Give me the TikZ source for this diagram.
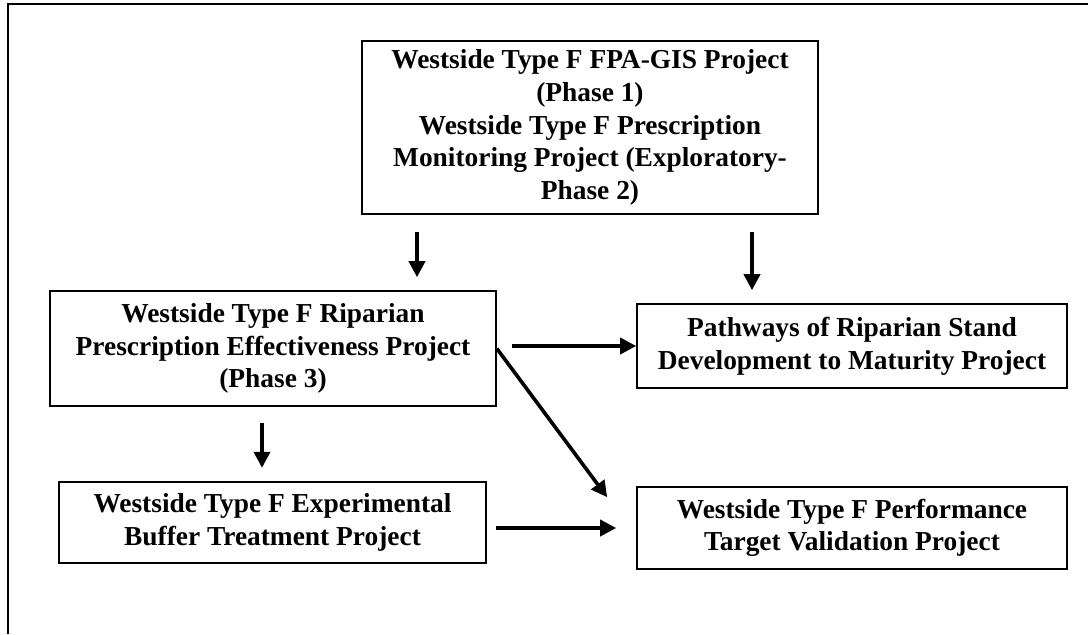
\documentclass[tikz,border=0pt]{standalone}
\usepackage{fontspec}
\setmainfont{Liberation Serif}
\usetikzlibrary{calc,arrows.meta,positioning}

\begin{document}
\begin{tikzpicture}[
  x=0.5pt, y=-0.5pt,
  box/.style={rectangle, draw, line width=0.8pt, inner sep=0pt, align=center,
    font=\fontsize{13.7}{16.3}\selectfont\bfseries},
  arr/.style={line width=1.8pt, -{Triangle[length=8pt,width=8pt]}},
  frame/.style={line width=1.2pt},
]
  \useasboundingbox (0,0) rectangle (1088,634);
  \draw[frame] (8,634) -- (8,4) -- (1088,4);

  \node[box, minimum width=228pt, minimum height=86.5pt] (gis) at (590,127.5) {
    Westside Type F FPA-GIS Project\\
    (Phase 1)\\
    Westside Type F Prescription\\
    Monitoring Project (Exploratory-\\
    Phase 2)
  };

  \node[box, minimum width=223pt, minimum height=57.5pt] (ripar) at (273,348.5) {
    Westside Type F Riparian\\
    Prescription Effectiveness Project\\
    (Phase 3)
  };

  \node[box, minimum width=215pt, minimum height=42pt] (path) at (852,346) {
    Pathways of Riparian Stand\\
    Development to Maturity Project
  };

  \node[box, minimum width=213.5pt, minimum height=40.5pt] (buffer) at (272.5,522.5) {
    Westside Type F Experimental\\
    Buffer Treatment Project
  };

  \node[box, minimum width=215pt, minimum height=41pt] (perf) at (852,528) {
    Westside Type F Performance\\
    Target Validation Project
  };

  % arrows between projects
  \draw[arr] ($(gis.south -| 417,0)+(0,17)$) -- ($(ripar.north -| 417,0)+(0,-13)$);
  \draw[arr] ($(gis.south -| 752,0)+(0,17)$) -- ($(path.north -| 752,0)+(0,-13)$);
  \draw[arr] ($(ripar.south -| 262,0)+(0,16)$) -- ($(buffer.south -| 262,0)+(0,-96)$);
  \draw[arr] ($(path.west)+(-124,0)$) -- (path.west);
  \draw[arr] (ripar.east) -- ($(perf.north west)+(-29,11)$);
  \draw[arr] ($(perf.west)+(-140,0)$) -- ($(perf.west)+(-20,0)$);
\end{tikzpicture}
\end{document}
